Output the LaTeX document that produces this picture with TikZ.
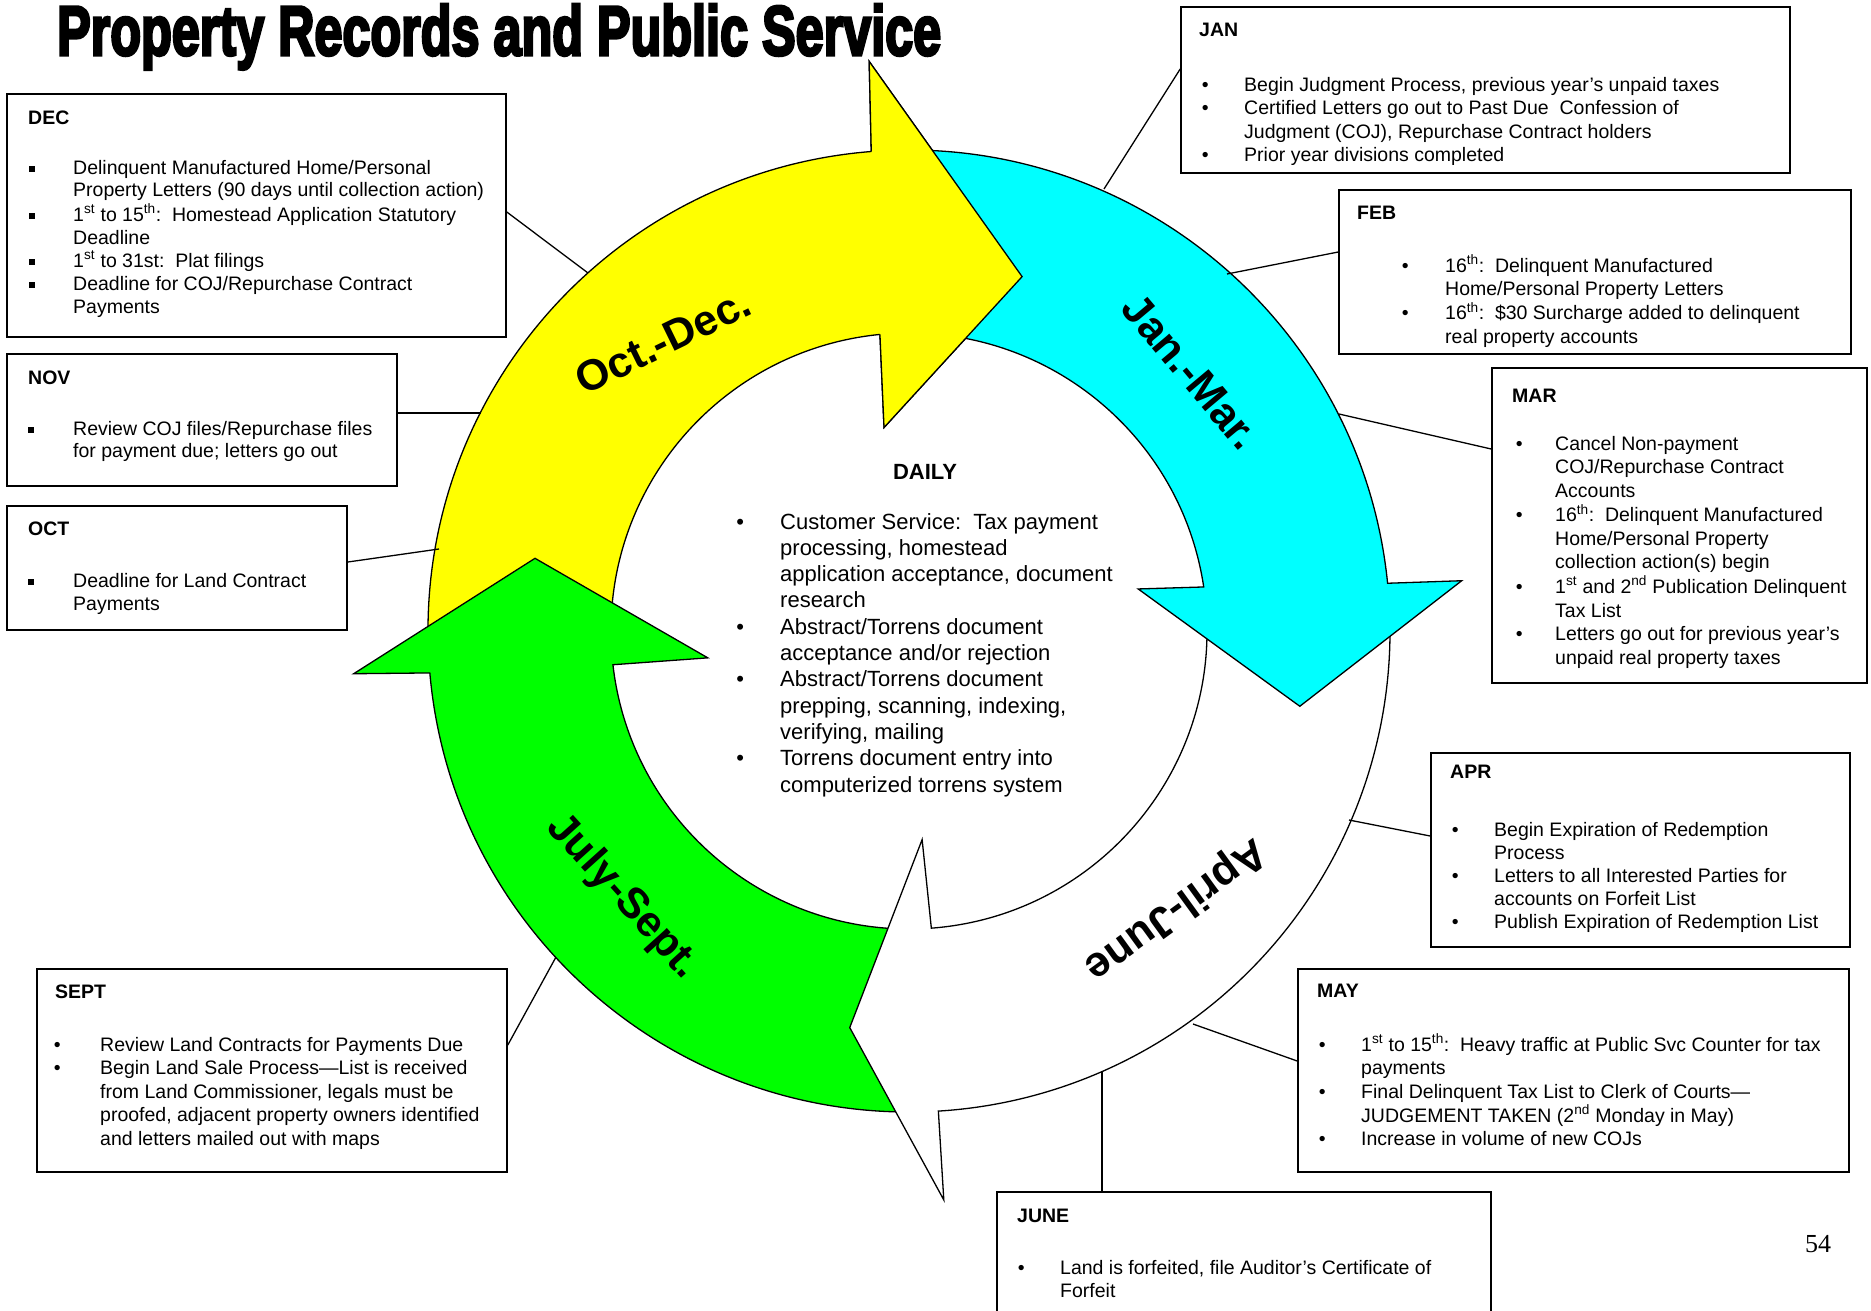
\documentclass[tikz,border=0pt]{standalone}
\usepackage{fontspec}
\setmainfont{Liberation Sans}
\newfontfamily\numfont{Liberation Serif}
\newfontfamily\headfont[FakeBold=4.5]{Liberation Sans Bold}
\usetikzlibrary{calc}
\definecolor{ringyellow}{RGB}{255,255,0}
\definecolor{ringcyan}{RGB}{0,255,255}
\definecolor{ringgreen}{RGB}{0,255,0}

\newcommand{\boxfontat}[1]{\fontsize{19.5}{#1}\selectfont}
\newcommand{\sqbul}{\rule[2.4pt]{5.6pt}{5.6pt}}
\newcommand{\rdbul}{\textbullet}
\newcommand{\sups}[1]{\textsuperscript{#1}}

\begin{document}
\begin{tikzpicture}[x=1pt,y=1pt,
  mbox/.style={draw, line width=1.6pt, inner sep=0pt},
  mtitle/.style={anchor=base west, inner sep=0pt, font=\boxfontat{22.6}\bfseries},
  mlist/.style={anchor=base west, inner sep=0pt},
  link/.style={line width=1.3pt},
  arrowbody/.style={draw=black, line width=1.3pt, line join=miter},
  seasonlabel/.style={font=\fontsize{43}{50}\selectfont\bfseries, inner sep=0pt}
]
\useasboundingbox (0,0) rectangle (1871,-1310);
\clip (0,0) rectangle (1871,-1310);

% ---------- title and page number ----------
\node[anchor=base west, inner sep=0pt] (title) at (57,-55)
  {\resizebox{884pt}{\height}{\headfont\fontsize{70}{70}\selectfont Property Records and Public Service}};
\node[anchor=base, inner sep=0pt, font={\numfont\fontsize{26}{30}\selectfont}] (pageno) at (1818,-1252) {54};

% ---------- the four quarter arrows ----------
\begin{scope}[shift={(909,-631)}]
  % Oct.-Dec.
  \path[arrowbody, fill=ringyellow]
    (183:481) arc[start angle=183, end angle=94.5, radius=481]
    -- (94:571) -- (72.3:372) -- (97:205) -- (95.6:298)
    arc[start angle=95.6, end angle=183, radius=298] -- cycle;
  % July-Sept.
  \path[arrowbody, fill=ringgreen]
    (-88:481) arc[start angle=-88, end angle=-175, radius=481]
    -- (-175.6:557) -- (-191:381) -- (-172.4:203) -- (-173.5:298)
    arc[start angle=-173.5, end angle=-88, radius=298] -- cycle;
  % April-June
  \path[arrowbody, fill=white]
    (4:481) arc[start angle=4, end angle=-86.5, radius=481]
    -- (-86.5:570) -- (-98.5:401) -- (-86.4:209) -- (-85.7:298)
    arc[start angle=-85.7, end angle=4, radius=298] -- cycle;
  % Jan.-Mar.
  \path[arrowbody, fill=ringcyan]
    (92:481) arc[start angle=92, end angle=5.7, radius=481]
    -- (5.2:555) -- (-10.9:398) -- (10.4:233) -- (8.5:298)
    arc[start angle=8.5, end angle=92, radius=298] -- cycle;
  % head of Oct.-Dec. lies over the tail of Jan.-Mar.
  \fill[ringyellow] (94.5:481) -- (94:571) -- (72.3:372) -- (97:205) -- (95.6:298) -- cycle;
  \draw[arrowbody] (94.5:481) -- (94:571) -- (72.3:372) -- (97:205) -- (95.6:298);
\end{scope}

\node[seasonlabel, rotate=26] (lab-oct) at (663,-341) {Oct.-Dec.};
\node[seasonlabel, rotate=-50] (lab-jan) at (1191,-372) {Jan.-Mar.};
\node[seasonlabel, rotate=-144] (lab-apr) at (1175,-909) {April-June};
\node[seasonlabel, rotate=-48] (lab-jul) at (623,-897) {July-Sept.};

% ---------- daily tasks in the middle ----------
\node[anchor=base, inner sep=0pt, font=\fontsize{22}{26.3}\selectfont\bfseries] (daily) at (925,-479) {DAILY};
\node[mlist, font=\fontsize{22}{26.3}\selectfont] (dailylist) at (736.2,-529) {%
\begin{tabular}[t]{@{}p{43.8pt}@{}l@{}}
\rdbul & Customer Service:\ \ Tax payment\\
 & processing, homestead\\
 & application acceptance, document\\
 & research\\
\rdbul & Abstract/Torrens document\\
 & acceptance and/or rejection\\
\rdbul & Abstract/Torrens document\\
 & prepping, scanning, indexing,\\
 & verifying, mailing\\
\rdbul & Torrens document entry into\\
 & computerized torrens system
\end{tabular}};

% ---------- month boxes ----------
\node[mbox, minimum width=499pt, minimum height=243pt] (dec) at (256.5,-215.5) {};
\node[mtitle] (dec-t) at (28,-124) {DEC};
\node[mlist, font=\boxfontat{22.9}] (dec-l) at (29.2,-174) {%
\begin{tabular}[t]{@{}p{43.8pt}@{}l@{}}
\sqbul & Delinquent Manufactured Home/Personal\\
 & Property Letters (90 days until collection action)\\
\sqbul & 1\sups{st} to 15\sups{th}:\ \ Homestead Application Statutory\\
 & Deadline\\
\sqbul & 1\sups{st} to 31st:\ \ Plat filings\\
\sqbul & Deadline for COJ/Repurchase Contract\\
 & Payments
\end{tabular}};

\node[mbox, minimum width=390pt, minimum height=132pt] (nov) at (202,-420) {};
\node[mtitle] (nov-t) at (28,-384) {NOV};
\node[mlist, font=\boxfontat{22.6}] (nov-l) at (28.2,-435) {%
\begin{tabular}[t]{@{}p{44.8pt}@{}l@{}}
\sqbul & Review COJ files/Repurchase files\\
 & for payment due; letters go out
\end{tabular}};

\node[mbox, minimum width=340pt, minimum height=124pt] (oct) at (177,-568) {};
\node[mtitle] (oct-t) at (28,-535) {OCT};
\node[mlist, font=\boxfontat{23.8}] (oct-l) at (28.2,-587) {%
\begin{tabular}[t]{@{}p{44.8pt}@{}l@{}}
\sqbul & Deadline for Land Contract\\
 & Payments
\end{tabular}};

\node[mbox, minimum width=470pt, minimum height=203pt] (sept) at (272,-1070.5) {};
\node[mtitle] (sept-t) at (55,-998) {SEPT};
\node[mlist, font=\boxfontat{23.5}] (sept-l) at (53.6,-1051) {%
\begin{tabular}[t]{@{}p{46.4pt}@{}l@{}}
\rdbul & Review Land Contracts for Payments Due\\
\rdbul & Begin Land Sale Process—List is received\\
 & from Land Commissioner, legals must be\\
 & proofed, adjacent property owners identified\\
 & and letters mailed out with maps
\end{tabular}};

\node[mbox, minimum width=609pt, minimum height=166pt] (jan) at (1485.5,-90) {};
\node[mtitle] (jan-t) at (1199,-36) {JAN};
\begin{scope}
\clip (1181,-7) rectangle (1790,-164);
\node[mlist, font=\boxfontat{23.6}] (jan-l) at (1201.6,-91) {%
\begin{tabular}[t]{@{}p{42.4pt}@{}l@{}}
\rdbul & Begin Judgment Process, previous year’s unpaid taxes\\
\rdbul & Certified Letters go out to Past Due\ \ Confession of\\
 & Judgment (COJ), Repurchase Contract holders\\
\rdbul & Prior year divisions completed
\end{tabular}};
\end{scope}

\node[mbox, minimum width=512pt, minimum height=164pt] (feb) at (1595,-272) {};
\node[mtitle] (feb-t) at (1357,-219) {FEB};
\node[mlist, font=\boxfontat{23.3}] (feb-l) at (1401.6,-272) {%
\begin{tabular}[t]{@{}p{43.4pt}@{}l@{}}
\rdbul & 16\sups{th}:\ \ Delinquent Manufactured\\
 & Home/Personal Property Letters\\
\rdbul & 16\sups{th}:\ \ \$30 Surcharge added to delinquent\\
 & real property accounts
\end{tabular}};

\node[mbox, minimum width=375pt, minimum height=315pt] (mar) at (1679.5,-525.5) {};
\node[mtitle] (mar-t) at (1512,-402) {MAR};
\node[mlist, font=\boxfontat{23.6}] (mar-l) at (1515.6,-450) {%
\begin{tabular}[t]{@{}p{39.4pt}@{}l@{}}
\rdbul & Cancel Non-payment\\
 & COJ/Repurchase Contract\\
 & Accounts\\
\rdbul & 16\sups{th}:\ \ Delinquent Manufactured\\
 & Home/Personal Property\\
 & collection action(s) begin\\
\rdbul & 1\sups{st} and 2\sups{nd} Publication Delinquent\\
 & Tax List\\
\rdbul & Letters go out for previous year’s\\
 & unpaid real property taxes
\end{tabular}};

\node[mbox, minimum width=419pt, minimum height=194pt] (apr) at (1640.5,-850) {};
\node[mtitle] (apr-t) at (1450,-778) {APR};
\node[mlist, font=\boxfontat{23}] (apr-l) at (1451.6,-836) {%
\begin{tabular}[t]{@{}p{42.4pt}@{}l@{}}
\rdbul & Begin Expiration of Redemption\\
 & Process\\
\rdbul & Letters to all Interested Parties for\\
 & accounts on Forfeit List\\
\rdbul & Publish Expiration of Redemption List
\end{tabular}};

\node[mbox, minimum width=551pt, minimum height=203pt] (may) at (1573.5,-1070.5) {};
\node[mtitle] (may-t) at (1317,-997) {MAY};
\node[mlist, font=\boxfontat{23.5}] (may-l) at (1318.6,-1051) {%
\begin{tabular}[t]{@{}p{42.4pt}@{}l@{}}
\rdbul & 1\sups{st} to 15\sups{th}:\ \ Heavy traffic at Public Svc Counter for tax\\
 & payments\\
\rdbul & Final Delinquent Tax List to Clerk of Courts—\\
 & JUDGEMENT TAKEN (2\sups{nd} Monday in May)\\
\rdbul & Increase in volume of new COJs
\end{tabular}};

\node[mbox, minimum width=494pt, minimum height=148pt] (june) at (1244,-1266) {};
\node[mtitle] (june-t) at (1017,-1222) {JUNE};
\node[mlist, font=\boxfontat{23}] (june-l) at (1017.6,-1274) {%
\begin{tabular}[t]{@{}p{42.4pt}@{}l@{}}
\rdbul & Land is forfeited, file Auditor’s Certificate of\\
 & Forfeit
\end{tabular}};

% ---------- leader lines from the boxes to the ring ----------
\coordinate (c-dec) at (588,-273);
\coordinate (c-nov) at (481,-413);
\coordinate (c-oct) at (439,-549);
\coordinate (c-sept) at (556,-957);
\coordinate (c-jan) at (1104,-189);
\coordinate (c-feb) at (1227,-274);
\coordinate (c-mar) at (1339,-414);
\coordinate (c-apr) at (1349,-820);
\coordinate (c-may) at (1193,-1024);
\coordinate (c-june) at (1102,-1072);

\draw[link] ([yshift=3.5pt]dec.east) -- (c-dec);
\draw[link] ([yshift=7pt]nov.east) -- (c-nov);
\draw[link] ([yshift=6pt]oct.east) -- (c-oct);
\draw[link] ([yshift=25.5pt]sept.east) -- (c-sept);
\draw[link] ([yshift=21pt]jan.west) -- (c-jan);
\draw[link] ([yshift=20pt]feb.west) -- (c-feb);
\draw[link] ([yshift=76.5pt]mar.west) -- (c-mar);
\draw[link] ([yshift=14pt]apr.west) -- (c-apr);
\draw[link] ([yshift=9.5pt]may.west) -- (c-may);
\draw[link] ([xshift=-142pt]june.north) -- (c-june);
\end{tikzpicture}
\end{document}
